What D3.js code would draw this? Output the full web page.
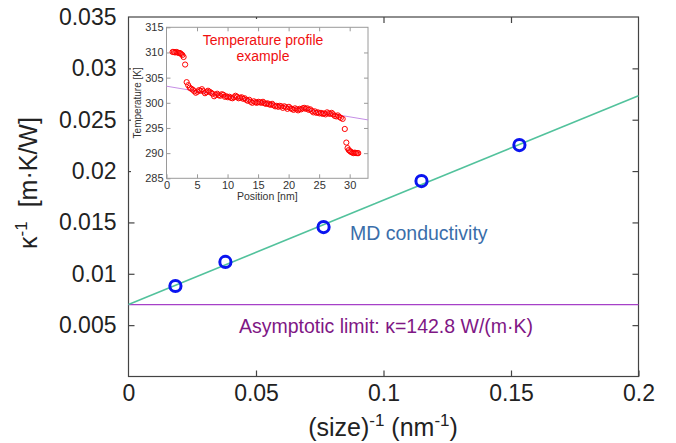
<!DOCTYPE html>
<html>
<head>
<meta charset="utf-8">
<script src="https://cdn.jsdelivr.net/npm/d3@7"></script>
<style>
  html, body { margin: 0; padding: 0; background: #fff; }
  svg { display: block; font-family: "Liberation Sans", Arial, sans-serif; }
</style>
</head>
<body>
<svg id="chart" width="676" height="443"></svg>
<script>
// Inverse system size (nm^-1) and inverse MD thermal conductivity (m·K/W)
const invSize = [0.0184, 0.0380, 0.0765, 0.1149, 0.1533];
const invKappa = [0.00881, 0.01115, 0.01455, 0.01903, 0.02253];

// Linear extrapolation to infinite size
const kappaLimit = 142.8;            // W/(m·K)
const fitSlope = 0.1017;             // (m·K/W) per nm^-1

const xTicks = [0, 0.05, 0.1, 0.15, 0.2];
const yTicks = [0.005, 0.01, 0.015, 0.02, 0.025, 0.03, 0.035];

// Temperature profile along the sample (position nm, temperature K)
const profilePos = [
  1.0, 1.2, 1.4, 1.6, 1.8, 2.0, 2.2, 2.4, 2.6, 2.8,
  3.05, 3.3, 3.55, 3.8, 4.05, 4.3, 4.55, 4.8, 5.05, 5.3,
  5.55, 5.8, 6.05, 6.3, 6.55, 6.8, 7.05, 7.3, 7.55, 7.8,
  8.05, 8.3, 8.55, 8.8, 9.05, 9.3, 9.55, 9.8, 10.05, 10.3,
  10.55, 10.8, 11.05, 11.3, 11.55, 11.8, 12.05, 12.3, 12.55, 12.8,
  13.05, 13.3, 13.55, 13.8, 14.05, 14.3, 14.55, 14.8, 15.05, 15.3,
  15.55, 15.8, 16.05, 16.3, 16.55, 16.8, 17.05, 17.3, 17.55, 17.8,
  18.05, 18.3, 18.55, 18.8, 19.05, 19.3, 19.55, 19.8, 20.05, 20.3,
  20.55, 20.8, 21.05, 21.3, 21.55, 21.8, 22.05, 22.3, 22.55, 22.8,
  23.05, 23.3, 23.55, 23.8, 24.05, 24.3, 24.55, 24.8, 25.05, 25.3,
  25.55, 25.8, 26.05, 26.3, 26.55, 26.8, 27.05, 27.3, 27.55, 27.8,
  28.05, 28.3, 28.55, 28.85, 29.2, 29.45, 29.65, 29.85, 30.05, 30.25,
  30.45, 30.65, 30.85, 31.05, 31.25, 31.4
];
const profileTemp = [
  310.1, 310.1, 310.0, 310.1, 310.0, 309.9, 309.9, 309.7, 309.5, 309.1,
  307.6, 304.1, 303.5, 303.0, 302.8, 302.6, 302.3, 302.0, 302.2, 302.5,
  302.4, 302.7, 302.3, 301.9, 302.1, 302.4, 302.2, 302.0, 301.8, 301.3,
  301.6, 301.8, 301.5, 301.4, 301.7, 301.6, 301.2, 301.3, 301.1, 301.2,
  301.0, 300.9, 301.1, 301.4, 301.2, 300.9, 301.0, 301.1, 300.8, 300.9,
  300.6, 300.4, 300.6, 300.2, 300.0, 300.3, 300.1, 300.0, 300.2, 300.1,
  300.0, 300.2, 299.9, 299.8, 299.9, 299.7, 299.6, 299.8, 299.5, 299.3,
  299.4, 299.2, 299.4, 299.3, 299.0, 299.3, 299.1, 298.8, 299.2, 298.9,
  298.8, 298.6, 298.9, 298.7, 298.5, 298.8, 298.7, 298.9, 299.0, 298.8,
  298.9, 298.6, 298.7, 298.4, 298.1, 298.3, 298.0, 298.1, 297.9, 298.0,
  297.8, 297.9, 297.7, 298.1, 297.9, 297.8, 298.0, 297.7, 297.4, 297.3,
  297.5, 297.2, 297.0, 296.8, 294.8, 292.1, 291.0, 290.6, 290.4, 290.2,
  290.1, 290.0, 290.1, 290.0, 290.0, 290.0
];
// Linear fit of the bulk region of the profile
const profileFit = [[0, 303.3], [33, 296.6]];
const insetXTicks = [0, 5, 10, 15, 20, 25, 30];
const insetYTicks = [285, 290, 295, 300, 305, 310, 315];

const svg = d3.select("#chart");

// ---------- main plot ----------
const L = 128.5, R = 638.5, T = 17, B = 376.5;
const x = d3.scaleLinear().domain([0, 0.2]).range([L, R]);
const y = d3.scaleLinear().domain([0, 0.035]).range([B, T]);
const axisColor = "#444";
const tickColor = "#222";

const main = svg.append("g");

// frame
main.append("rect")
  .attr("x", L).attr("y", T).attr("width", R - L).attr("height", B - T)
  .attr("fill", "none").attr("stroke", axisColor).attr("stroke-width", 1.2);

// axes with inward ticks
const fmt = d => d === 0 ? "0" : String(+d.toFixed(3));
const gx = main.append("g").attr("transform", `translate(0,${B})`)
  .call(d3.axisBottom(x).tickValues(xTicks).tickSizeInner(-6).tickSizeOuter(0).tickPadding(8).tickFormat(fmt));
const gxt = main.append("g").attr("transform", `translate(0,${T})`)
  .call(d3.axisTop(x).tickValues(xTicks.slice(1, -1)).tickSizeInner(-6).tickSizeOuter(0).tickFormat(""));
const gy = main.append("g").attr("transform", `translate(${L},0)`)
  .call(d3.axisLeft(y).tickValues(yTicks).tickSizeInner(-6).tickSizeOuter(0).tickPadding(12).tickFormat(fmt));
const gyr = main.append("g").attr("transform", `translate(${R},0)`)
  .call(d3.axisRight(y).tickValues(yTicks.slice(0, -1)).tickSizeInner(-6).tickSizeOuter(0).tickFormat(""));
[gx, gxt, gy, gyr].forEach(g => {
  g.select(".domain").remove();
  g.selectAll(".tick line").attr("stroke", axisColor).attr("stroke-width", 1.2);
  g.selectAll(".tick text").attr("fill", tickColor)
    .style("font-family", "'Liberation Sans', Arial, sans-serif").style("font-size", "23px");
});
gx.selectAll(".tick").filter(d => d === 0).select("line").remove();
gy.selectAll(".tick").filter(d => d === 0.035).select("line").remove();

// asymptotic limit line
const y0 = 1 / kappaLimit;
main.append("line")
  .attr("x1", x(0)).attr("x2", x(0.2))
  .attr("y1", y(y0)).attr("y2", y(y0))
  .attr("stroke", "#a640c8").attr("stroke-width", 1.3);

// fitted line
main.append("line")
  .attr("x1", x(0)).attr("y1", y(y0))
  .attr("x2", x(0.2)).attr("y2", y(y0 + fitSlope * 0.2))
  .attr("stroke", "#52c29c").attr("stroke-width", 1.6);

// MD points
main.selectAll("circle.md")
  .data(invSize.map((v, i) => [v, invKappa[i]]))
  .join("circle")
  .attr("class", "md")
  .attr("cx", d => x(d[0])).attr("cy", d => y(d[1]))
  .attr("r", 5.6)
  .attr("fill", "none").attr("stroke", "#0a14f0").attr("stroke-width", 3);

// annotations
main.append("text")
  .attr("x", 350).attr("y", 240)
  .attr("fill", "#3a6eaa").style("font-size", "19.5px")
  .text("MD conductivity");
main.append("text")
  .attr("x", 386).attr("y", 333).attr("text-anchor", "middle")
  .attr("fill", "#7f1785").style("font-size", "19.5px")
  .text(`Asymptotic limit: \u03ba=${kappaLimit.toFixed(1)} W/(m\u00b7K)`);

// axis titles
const xt = main.append("text")
  .attr("x", 383).attr("y", 436).attr("text-anchor", "middle")
  .attr("fill", tickColor).style("font-size", "25px");
xt.append("tspan").text("(size)");
xt.append("tspan").attr("dy", -10).style("font-size", "17px").text("-1");
xt.append("tspan").attr("dy", 10).text(" (nm");
xt.append("tspan").attr("dy", -10).style("font-size", "17px").text("-1");
xt.append("tspan").attr("dy", 10).text(")");

const yt = main.append("text")
  .attr("transform", "translate(37,183) rotate(-90)")
  .attr("text-anchor", "middle")
  .attr("fill", tickColor).style("font-size", "25px");
yt.append("tspan").text("\u03ba");
yt.append("tspan").attr("dy", -10).style("font-size", "17px").text("-1");
yt.append("tspan").attr("dy", 10).text("\u00a0 [m\u00b7K/W]");

// ---------- inset: temperature profile ----------
const iL = 166.5, iR = 368, iT = 27.3, iB = 178.3;
const ix = d3.scaleLinear().domain([0, 33]).range([iL, iR]);
const iy = d3.scaleLinear().domain([285, 315]).range([iB, iT]);
const inset = svg.append("g");
const insetFrame = "#9a9a9a";

inset.append("rect")
  .attr("x", 131).attr("y", 19).attr("width", 244).attr("height", 184)
  .attr("fill", "#fff");
inset.append("rect")
  .attr("x", iL).attr("y", iT).attr("width", iR - iL).attr("height", iB - iT)
  .attr("fill", "none").attr("stroke", insetFrame).attr("stroke-width", 1);

const ig = [
  inset.append("g").attr("transform", `translate(0,${iB})`)
    .call(d3.axisBottom(ix).tickValues(insetXTicks).tickSizeInner(-4).tickSizeOuter(0).tickPadding(3)),
  inset.append("g").attr("transform", `translate(0,${iT})`)
    .call(d3.axisTop(ix).tickValues(insetXTicks.slice(1)).tickSizeInner(-4).tickSizeOuter(0).tickFormat("")),
  inset.append("g").attr("transform", `translate(${iL},0)`)
    .call(d3.axisLeft(iy).tickValues(insetYTicks).tickSizeInner(-4).tickSizeOuter(0).tickPadding(3)),
  inset.append("g").attr("transform", `translate(${iR},0)`)
    .call(d3.axisRight(iy).tickValues(insetYTicks.slice(1, -1)).tickSizeInner(-4).tickSizeOuter(0).tickFormat(""))
];
ig.forEach(g => {
  g.select(".domain").remove();
  g.selectAll(".tick line").attr("stroke", insetFrame);
  g.selectAll(".tick text").attr("fill", "#333")
    .style("font-family", "'Liberation Sans', Arial, sans-serif").style("font-size", "11px");
});

inset.append("text")
  .attr("x", (iL + iR) / 2).attr("y", 200).attr("text-anchor", "middle")
  .attr("fill", "#333").style("font-size", "10.5px").text("Position [nm]");
inset.append("text")
  .attr("transform", `translate(141,${(iT + iB) / 2}) rotate(-90)`).attr("text-anchor", "middle")
  .attr("fill", "#333").style("font-size", "10px").text("Temperature [K]");

// fitted profile line
inset.append("path")
  .datum(profileFit)
  .attr("d", d3.line().x(d => ix(d[0])).y(d => iy(d[1])))
  .attr("fill", "none").attr("stroke", "#c58ee6").attr("stroke-width", 1);

// profile points
inset.selectAll("circle.tp")
  .data(profilePos.map((p, i) => [p, profileTemp[i]]))
  .join("circle")
  .attr("class", "tp")
  .attr("cx", d => ix(d[0])).attr("cy", d => iy(d[1]))
  .attr("r", 2.6)
  .attr("fill", "none").attr("stroke", "#f00").attr("stroke-width", 1);

// inset title
const title = inset.append("text")
  .attr("text-anchor", "middle").attr("fill", "#f01010").style("font-size", "14px");
title.append("tspan").attr("x", 263).attr("y", 45).text("Temperature profile");
title.append("tspan").attr("x", 263).attr("y", 61).text("example");
</script>
</body>
</html>
